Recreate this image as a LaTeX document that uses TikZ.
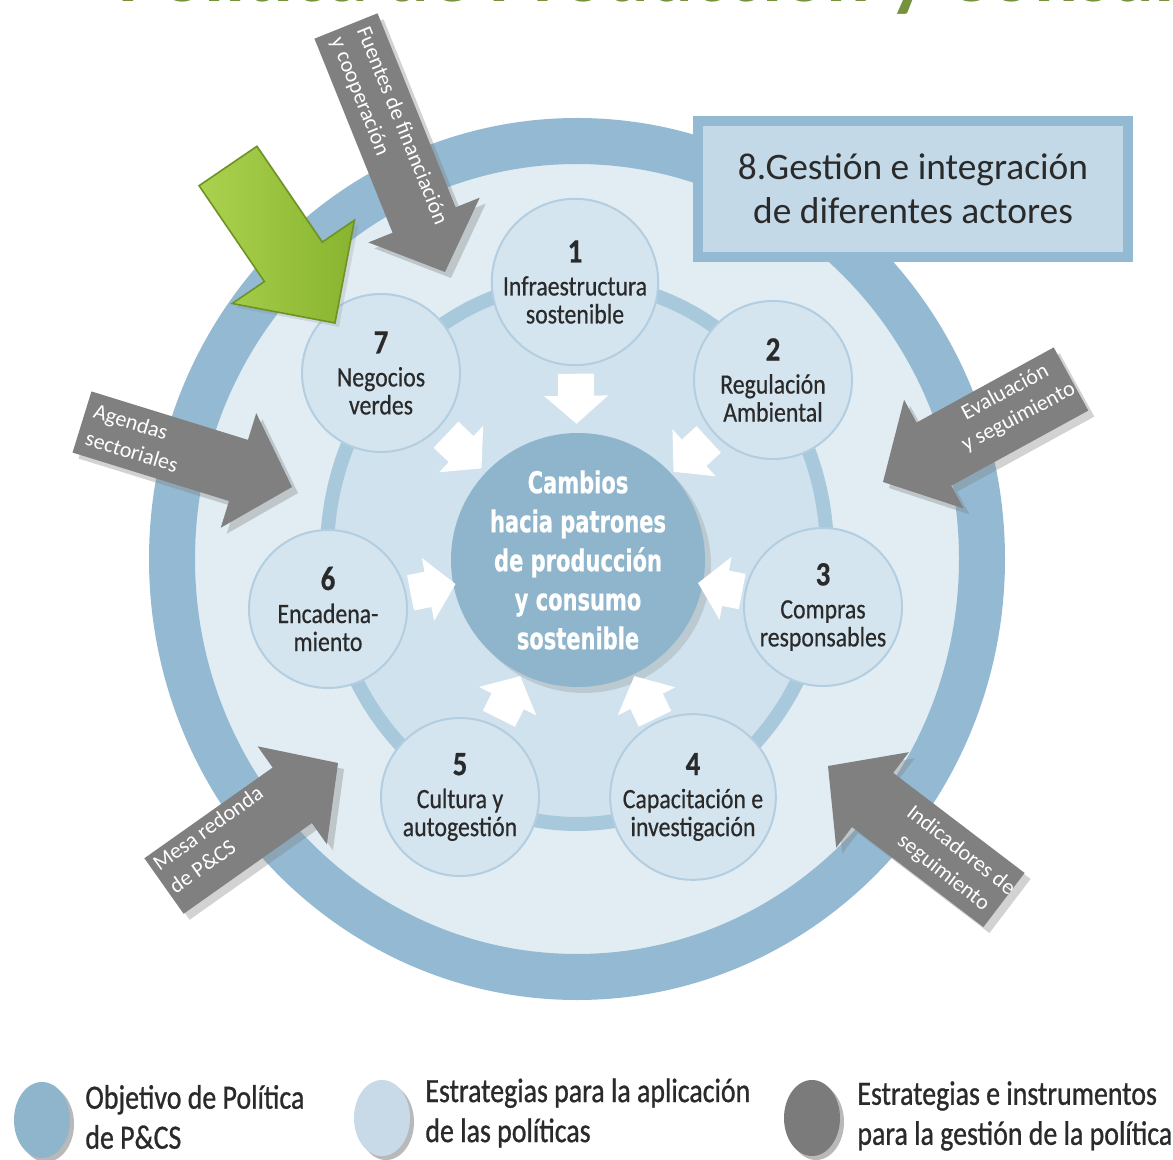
\documentclass[tikz,border=0pt]{standalone}
\usepackage{fontspec}
\setmainfont{Carlito}
\newfontfamily\condf[FakeStretch=0.85,FakeBold=0.5]{Carlito}
\newfontfamily\legf[FakeStretch=0.82,FakeBold=0.8]{Carlito}
\newfontfamily\heavyf[FakeStretch=0.7,FakeBold=0.6]{DejaVu Sans}
\usetikzlibrary{calc,shapes.arrows,shapes.geometric,shadows}
\definecolor{ringblue}{HTML}{93BAD2}
\definecolor{zonefill}{HTML}{E1ECF3}
\definecolor{innerfill}{HTML}{D0E2ED}
\definecolor{innerring}{HTML}{A8C8DC}
\definecolor{smallfill}{HTML}{D5E5EF}
\definecolor{smalledge}{HTML}{B2CEE0}
\definecolor{centerblue}{HTML}{8FB5CD}
\definecolor{boxfill}{HTML}{C3D9E7}
\definecolor{arrowgrey}{HTML}{808080}
\definecolor{txt}{HTML}{2A2A2A}
\definecolor{titlegreen}{HTML}{76923C}
\definecolor{greenA}{HTML}{ABD24F}
\definecolor{greenB}{HTML}{88B42F}
\definecolor{greenE}{HTML}{6E9324}
\definecolor{lightdisc}{HTML}{C8DAE7}
\definecolor{darkdisc}{HTML}{7B7B7B}
\newcommand\cnum[1]{{\fontsize{17}{17}\selectfont\bfseries #1}}
\newcommand\blockarrow[6]{%
  \coordinate (#1-h) at ($(#2)!#5!(#1)$);
  \path[#6] ($(#1)!#3!90:(#2)$) -- ($(#1-h)!#3!-90:(#1)$) -- ($(#1-h)!#4!-90:(#1)$)
    -- (#2) -- ($(#1-h)!#4!90:(#1)$) -- ($(#1-h)!#3!90:(#1)$) -- ($(#1)!#3!-90:(#2)$) -- cycle;}
\begin{document}
\begin{tikzpicture}[x=0.5pt,y=-0.5pt,
  smallc/.style={circle, minimum size=79pt, inner sep=0pt, fill=smallfill, draw=smalledge,
    line width=1pt, align=center, text=txt, font=\condf\fontsize{14}{14}\selectfont},
  centerc/.style={circle, minimum size=127pt, inner sep=0pt, fill=centerblue, align=center,
    text=white, font=\heavyf\bfseries\fontsize{15}{19.5}\selectfont,
    drop shadow={shadow xshift=3pt, shadow yshift=-3pt, opacity=.25}},
  greyarrow/.style={fill=arrowgrey, drop shadow={shadow xshift=3pt, shadow yshift=-3pt, opacity=.35}},
  alabel/.style={text=white, inner sep=0pt, font=\fontsize{11}{14}\selectfont},
  legdisc/.style={ellipse, minimum width=28pt, minimum height=38pt, inner sep=0pt,
    drop shadow={shadow xshift=2pt, shadow yshift=-2pt, opacity=.55}},
  legtext/.style={anchor=west, align=left, inner sep=0pt, text=txt, font=\legf\fontsize{17}{20}\selectfont}
]
\useasboundingbox (0,0) rectangle (1173,1160);
\fill[white] (0,0) rectangle (1173,1160);
% cropped title
\begin{scope}
  \clip (0,0) rectangle (1173,1160);
  \node[anchor=south west, inner sep=0pt, text=titlegreen, font=\bfseries\fontsize{41}{41}\selectfont]
    (title) at (118,15) {Política de Producción y Consumo Sostenible};
\end{scope}
% rings
\draw[ringblue, line width=23pt, fill=zonefill] (577,559) ellipse [x radius=405, y radius=418];
\fill[innerfill] (577,553) ellipse [x radius=250, y radius=271];
\draw[innerring, line width=7pt] (577,553) ellipse [x radius=250, y radius=271];
% small circles
\node[smallc] (n1) at (575,282) {\cnum{1}\\[2.5pt]Infraestructura\\sostenible};
\node[smallc] (n2) at (773,380) {\cnum{2}\\[2.5pt]Regulación\\Ambiental};
\node[smallc] (n3) at (823,607) {\cnum{3}\\[2.5pt]Compras\\responsables};
\node[smallc] (n4) at (693,797) {\cnum{4}\\[2.5pt]Capacitación e\\investigación};
\node[smallc] (n5) at (460,797) {\cnum{5}\\[2.5pt]Cultura y\\autogestión};
\node[smallc] (n6) at (328,609) {\cnum{6}\\[2.5pt]Encadena-\\miento};
\node[smallc] (n7) at (381,373) {\cnum{7}\\[2.5pt]Negocios\\verdes};
% center
\node[centerc] (c) at (578,560) {Cambios\\hacia patrones\\de producción\\y consumo\\sostenible};
% white arrows toward center
\foreach \n in {1,...,7}{
  \coordinate (wT\n) at ($(c.center)!0.67!(n\n.center)$);
  \coordinate (wP\n) at ($(c.center)!0.49!(n\n.center)$);
  \blockarrow{wT\n}{wP\n}{9pt}{16pt}{14pt}{fill=white}
}
% box 8
\node[rectangle, minimum width=215pt, minimum height=68pt, fill=boxfill, draw=ringblue,
  line width=5pt, align=center, text=txt, font=\fontsize{18.7}{22}\selectfont,
  drop shadow={shadow xshift=2pt, shadow yshift=-2pt, opacity=.15}]
  (b8) at (913,189) {8.Gestión e integración\\de diferentes actores};
% grey arrows
\coordinate (fuT) at (346,26);   \coordinate (fuP) at (445,272);
\coordinate (agT) at (82,422);   \coordinate (agP) at (292,487);
\coordinate (evT) at (1071,379); \coordinate (evP) at (883,482);
\coordinate (meT) at (164,886);  \coordinate (meP) at (338,763);
\coordinate (inT) at (1004,900); \coordinate (inP) at (828,766);
\blockarrow{fuT}{fuP}{17pt}{30pt}{28pt}{greyarrow}
\blockarrow{agT}{agP}{16pt}{30pt}{28pt}{greyarrow}
\blockarrow{evT}{evP}{18pt}{31pt}{29pt}{greyarrow}
\blockarrow{meT}{meP}{17pt}{30pt}{28pt}{greyarrow}
\blockarrow{inT}{inP}{17pt}{30pt}{28pt}{greyarrow}
\node[alabel, anchor=west, align=left, rotate=-68] (lfu) at (349,33) {Fuentes de financiación\\y cooperación};
\node[alabel, anchor=west, align=left, rotate=-17] (lag) at (90,424) {Agendas\\sectoriales};
\node[alabel, align=center, rotate=28] (lev) at (1012,405) {Evaluación\\y seguimiento};
\node[alabel, anchor=west, align=left, rotate=35.5] (lme) at (163,877) {Mesa redonda\\de P\&CS};
\node[alabel, align=center, rotate=-38] (lin) at (952,862) {Indicadores de\\seguimiento};
% green arrow
\coordinate (grT) at (228,166); \coordinate (grP) at (335,323);
\blockarrow{grT}{grP}{17.5pt}{37pt}{37pt}{left color=greenA, right color=greenB, draw=greenE, line width=0.8pt,
  drop shadow={shadow xshift=2pt, shadow yshift=-2pt, opacity=.2}}
% legend
\node[legdisc, fill=centerblue] (d1) at (42,1120) {};
\node[legtext] (t1) at (85,1117) {Objetivo de Política\\de P\&CS};
\node[legdisc, fill=lightdisc] (d2) at (382,1118) {};
\node[legtext] (t2) at (425,1113) {Estrategias para la aplicación\\de las políticas};
\node[legdisc, fill=darkdisc] (d3) at (812,1118) {};
\node[legtext] (t3) at (857,1116) {Estrategias e instrumentos\\para la gestión de la política};
\end{tikzpicture}
\end{document}
